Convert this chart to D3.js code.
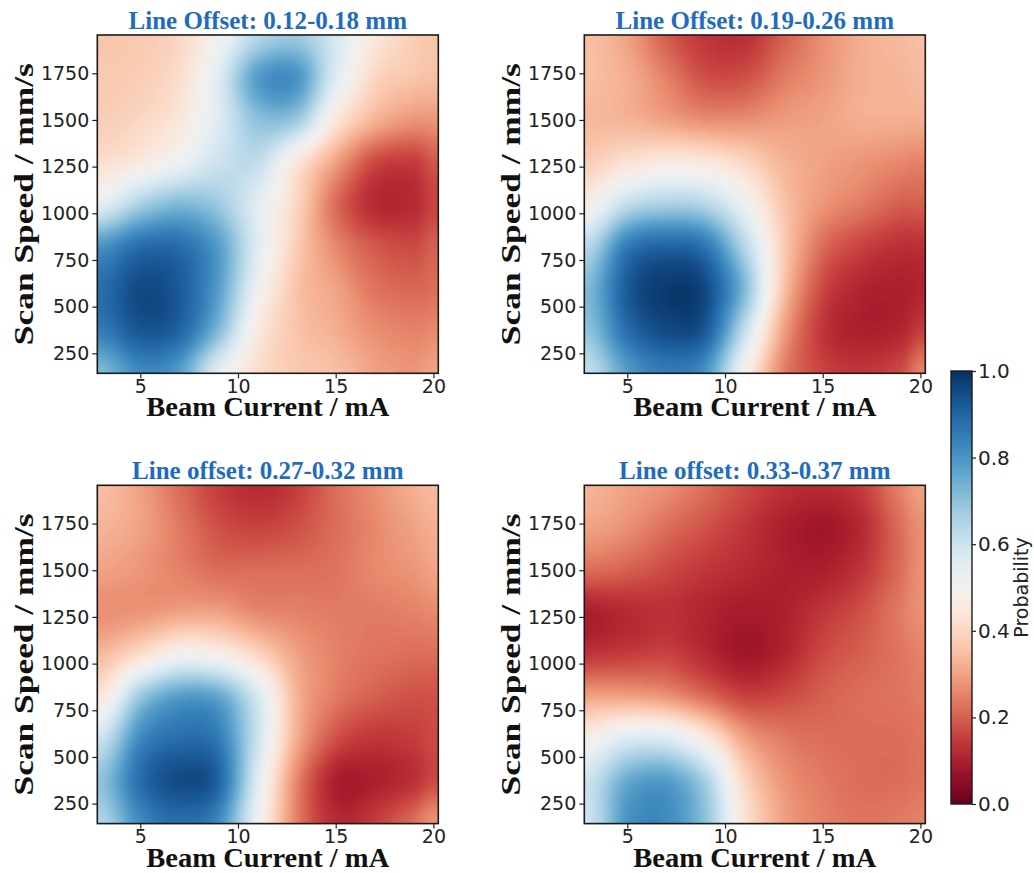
<!DOCTYPE html>
<html>
<head>
<meta charset="utf-8">
<script src="https://cdn.jsdelivr.net/npm/d3@7"></script>
<style>
  html, body { margin: 0; padding: 0; background: #fff; }
  svg { display: block; }
</style>
</head>
<body>
<svg id="chart" width="1034" height="873"></svg>
<script>
// ---------------- DATA ----------------
// Beam current grid (mA), columns
const currents = [3, 5, 7, 9, 11, 13, 15, 17, 19, 20];
// Scan speed grid (mm/s), rows from top to bottom
const speeds = [1950, 1725, 1500, 1275, 1050, 825, 600, 375, 150];

const titles = [
  "Line Offset: 0.12-0.18 mm",
  "Line Offset: 0.19-0.26 mm",
  "Line offset: 0.27-0.32 mm",
  "Line offset: 0.33-0.37 mm"
];

const xTicks = [5, 10, 15, 20];
const yTicks = [250, 500, 750, 1000, 1250, 1500, 1750];
const cbTicks = [0.0, 0.2, 0.4, 0.6, 0.8, 1.0];

// Probability values (rows follow `speeds`, columns follow `currents`)
const prob1 = [
  [0.36, 0.37, 0.40, 0.50, 0.64, 0.68, 0.58, 0.45, 0.38, 0.36],
  [0.37, 0.38, 0.42, 0.56, 0.78, 0.80, 0.56, 0.40, 0.36, 0.35],
  [0.38, 0.40, 0.45, 0.56, 0.70, 0.68, 0.45, 0.33, 0.28, 0.28],
  [0.42, 0.46, 0.52, 0.60, 0.62, 0.45, 0.30, 0.17, 0.15, 0.19],
  [0.55, 0.66, 0.72, 0.68, 0.55, 0.40, 0.22, 0.12, 0.12, 0.16],
  [0.80, 0.88, 0.88, 0.78, 0.56, 0.38, 0.26, 0.19, 0.17, 0.20],
  [0.88, 0.95, 0.92, 0.78, 0.52, 0.36, 0.30, 0.23, 0.21, 0.22],
  [0.85, 0.93, 0.90, 0.72, 0.46, 0.36, 0.32, 0.27, 0.25, 0.26],
  [0.72, 0.82, 0.78, 0.55, 0.42, 0.37, 0.35, 0.30, 0.28, 0.30]
];
const prob2 = [
  [0.35, 0.30, 0.20, 0.14, 0.13, 0.20, 0.27, 0.32, 0.34, 0.35],
  [0.35, 0.32, 0.25, 0.18, 0.18, 0.24, 0.28, 0.32, 0.33, 0.34],
  [0.34, 0.33, 0.30, 0.27, 0.27, 0.29, 0.30, 0.32, 0.32, 0.32],
  [0.38, 0.43, 0.46, 0.45, 0.40, 0.33, 0.30, 0.28, 0.26, 0.25],
  [0.48, 0.62, 0.66, 0.64, 0.52, 0.36, 0.28, 0.24, 0.20, 0.20],
  [0.64, 0.85, 0.90, 0.86, 0.64, 0.38, 0.22, 0.16, 0.13, 0.13],
  [0.72, 0.92, 0.98, 0.95, 0.72, 0.36, 0.17, 0.11, 0.10, 0.11],
  [0.70, 0.88, 0.95, 0.92, 0.62, 0.30, 0.14, 0.10, 0.11, 0.15],
  [0.62, 0.78, 0.85, 0.80, 0.50, 0.25, 0.16, 0.14, 0.17, 0.25]
];
const prob3 = [
  [0.35, 0.30, 0.22, 0.15, 0.12, 0.15, 0.22, 0.27, 0.32, 0.34],
  [0.33, 0.30, 0.24, 0.18, 0.16, 0.18, 0.22, 0.26, 0.30, 0.32],
  [0.30, 0.28, 0.25, 0.22, 0.22, 0.22, 0.23, 0.26, 0.28, 0.30],
  [0.27, 0.28, 0.30, 0.30, 0.26, 0.25, 0.24, 0.24, 0.25, 0.26],
  [0.34, 0.42, 0.50, 0.48, 0.40, 0.30, 0.25, 0.23, 0.22, 0.22],
  [0.45, 0.68, 0.78, 0.76, 0.58, 0.33, 0.24, 0.20, 0.18, 0.18],
  [0.60, 0.82, 0.88, 0.85, 0.60, 0.32, 0.18, 0.14, 0.15, 0.17],
  [0.70, 0.88, 0.95, 0.90, 0.56, 0.26, 0.10, 0.10, 0.13, 0.17],
  [0.65, 0.82, 0.88, 0.82, 0.52, 0.25, 0.12, 0.15, 0.22, 0.28]
];
const prob4 = [
  [0.33, 0.30, 0.27, 0.22, 0.17, 0.13, 0.12, 0.15, 0.25, 0.30],
  [0.30, 0.27, 0.22, 0.18, 0.14, 0.10, 0.08, 0.12, 0.22, 0.27],
  [0.22, 0.20, 0.17, 0.14, 0.12, 0.10, 0.10, 0.14, 0.22, 0.27],
  [0.10, 0.12, 0.13, 0.11, 0.09, 0.10, 0.14, 0.18, 0.24, 0.27],
  [0.14, 0.15, 0.16, 0.12, 0.08, 0.11, 0.17, 0.20, 0.23, 0.25],
  [0.30, 0.30, 0.28, 0.22, 0.16, 0.17, 0.20, 0.22, 0.23, 0.24],
  [0.48, 0.56, 0.56, 0.46, 0.30, 0.24, 0.22, 0.22, 0.22, 0.23],
  [0.60, 0.75, 0.78, 0.66, 0.40, 0.28, 0.24, 0.22, 0.22, 0.23],
  [0.60, 0.80, 0.82, 0.70, 0.44, 0.30, 0.25, 0.23, 0.24, 0.25]
];

// ---------------- LAYOUT ----------------
const panels = [
  { left: 97.3,  top: 35,    grid: prob1, title: titles[0] },
  { left: 584.3, top: 35,    grid: prob2, title: titles[1] },
  { left: 97.3,  top: 485.3, grid: prob3, title: titles[2] },
  { left: 584.3, top: 485.3, grid: prob4, title: titles[3] }
];
const PW = 341, PH = 338.3;
const xDomain = [2.8, 20.25];
const yDomain = [143, 1955];

const svg = d3.select("#chart");
const color = d3.scaleSequential(d3.interpolateRdBu).domain([0, 1]);

// colour lookup table
const LUT = d3.range(256).map(i => d3.rgb(color(i / 255)));

function cr(p0, p1, p2, p3, t) {
  return 0.5 * ((2 * p1) + (-p0 + p2) * t + (2 * p0 - 5 * p1 + 4 * p2 - p3) * t * t + (-p0 + 3 * p1 - 3 * p2 + p3) * t * t * t);
}
function segX(x) {
  const n = currents.length;
  x = Math.max(currents[0], Math.min(currents[n - 1], x));
  let i = 0;
  while (i < n - 2 && x > currents[i + 1]) i++;
  return [i, (x - currents[i]) / (currents[i + 1] - currents[i])];
}
function segY(y) {
  const n = speeds.length;
  y = Math.min(speeds[0], Math.max(speeds[n - 1], y));
  let j = 0;
  while (j < n - 2 && y < speeds[j + 1]) j++;
  return [j, (speeds[j] - y) / (speeds[j] - speeds[j + 1])];
}
function valueAt(grid, x, y) {
  const [i, tx] = segX(x);
  const [j, ty] = segY(y);
  const nx = currents.length, ny = speeds.length;
  const ci = k => Math.max(0, Math.min(nx - 1, k));
  const rj = k => Math.max(0, Math.min(ny - 1, k));
  const rowVals = [];
  for (let r = j - 1; r <= j + 2; r++) {
    const row = grid[rj(r)];
    rowVals.push(cr(row[ci(i - 1)], row[ci(i)], row[ci(i + 1)], row[ci(i + 2)], tx));
  }
  const v = cr(rowVals[0], rowVals[1], rowVals[2], rowVals[3], ty);
  return Math.max(0, Math.min(1, v));
}

const serif = "'Liberation Serif', 'Times New Roman', Times, serif";
const sans = "'DejaVu Sans', sans-serif";

panels.forEach(p => {
  const x = d3.scaleLinear().domain(xDomain).range([0, PW]);
  const y = d3.scaleLinear().domain(yDomain).range([PH, 0]);
  const g = svg.append("g").attr("transform", `translate(${p.left},${p.top})`);

  // heatmap raster
  const cw = Math.round(PW), ch = Math.round(PH);
  const canvas = document.createElement("canvas");
  canvas.width = cw; canvas.height = ch;
  const ctx = canvas.getContext("2d");
  const img = ctx.createImageData(cw, ch);
  for (let py = 0; py < ch; py++) {
    const yv = y.invert((py + 0.5) * PH / ch);
    for (let px = 0; px < cw; px++) {
      const xv = x.invert((px + 0.5) * PW / cw);
      const v = valueAt(p.grid, xv, yv);
      const c = LUT[Math.round(v * 255)];
      const k = (py * cw + px) * 4;
      img.data[k] = c.r; img.data[k + 1] = c.g; img.data[k + 2] = c.b; img.data[k + 3] = 255;
    }
  }
  ctx.putImageData(img, 0, 0);
  g.append("image")
    .attr("x", 0).attr("y", 0)
    .attr("width", PW).attr("height", PH)
    .attr("preserveAspectRatio", "none")
    .attr("href", canvas.toDataURL());

  // axes
  const xAxis = d3.axisBottom(x).tickValues(xTicks).tickSize(5).tickPadding(1).tickFormat(d3.format("d"));
  const yAxis = d3.axisLeft(y).tickValues(yTicks).tickSize(5).tickPadding(3).tickFormat(d3.format("d"));
  const gx = g.append("g").attr("transform", `translate(0,${PH})`).call(xAxis);
  const gy = g.append("g").call(yAxis);
  [gx, gy].forEach(a => {
    a.select(".domain").remove();
    a.selectAll(".tick line").attr("stroke", "#222").attr("stroke-width", 1.2);
    a.selectAll(".tick text")
      .attr("fill", "#222")
      .style("font-family", sans)
      .style("font-size", "19px");
  });

  // frame
  g.append("rect").attr("x", 0).attr("y", 0).attr("width", PW).attr("height", PH)
    .attr("fill", "none").attr("stroke", "#1a1a1a").attr("stroke-width", 1.6);

  // title
  g.append("text")
    .attr("x", PW / 2).attr("y", -6)
    .attr("text-anchor", "middle")
    .attr("fill", "#1f6cbf")
    .style("font-family", serif)
    .style("font-weight", "bold")
    .style("font-size", "25px")
    .text(p.title);

  // x label
  g.append("text")
    .attr("x", PW / 2).attr("y", PH + 43)
    .attr("text-anchor", "middle")
    .attr("fill", "#111")
    .style("font-family", serif)
    .style("font-weight", "bold")
    .style("font-size", "27px")
    .attr("textLength", 243)
    .attr("lengthAdjust", "spacingAndGlyphs")
    .text("Beam Current / mA");

  // y label
  g.append("text")
    .attr("transform", `translate(-64,${PH / 2}) rotate(-90)`)
    .attr("text-anchor", "middle")
    .attr("fill", "#111")
    .style("font-family", serif)
    .style("font-weight", "bold")
    .style("font-size", "28px")
    .attr("textLength", 282)
    .attr("lengthAdjust", "spacingAndGlyphs")
    .text("Scan Speed / mm/s");
});

// ---------------- COLORBAR ----------------
const cb = { left: 951, top: 371, w: 21, h: 433 };
const cbScale = d3.scaleLinear().domain([0, 1]).range([cb.h, 0]);
const cbg = svg.append("g").attr("transform", `translate(${cb.left},${cb.top})`);
{
  const canvas = document.createElement("canvas");
  canvas.width = 1; canvas.height = cb.h;
  const ctx = canvas.getContext("2d");
  const img = ctx.createImageData(1, cb.h);
  for (let py = 0; py < cb.h; py++) {
    const v = cbScale.invert(py + 0.5);
    const c = LUT[Math.round(Math.max(0, Math.min(1, v)) * 255)];
    img.data[py * 4] = c.r; img.data[py * 4 + 1] = c.g; img.data[py * 4 + 2] = c.b; img.data[py * 4 + 3] = 255;
  }
  ctx.putImageData(img, 0, 0);
  cbg.append("image").attr("x", 0).attr("y", 0).attr("width", cb.w).attr("height", cb.h)
    .attr("preserveAspectRatio", "none").attr("href", canvas.toDataURL());
}
const cbAxis = d3.axisRight(cbScale).tickValues(cbTicks).tickSize(4).tickPadding(2).tickFormat(d3.format(".1f"));
const cba = cbg.append("g").attr("transform", `translate(${cb.w},0)`).call(cbAxis);
cba.select(".domain").remove();
cba.selectAll(".tick line").attr("stroke", "#222").attr("stroke-width", 1.2);
cba.selectAll(".tick text").attr("fill", "#222")
  .style("font-family", sans).style("font-size", "20px");
cbg.append("rect").attr("width", cb.w).attr("height", cb.h)
  .attr("fill", "none").attr("stroke", "#1a1a1a").attr("stroke-width", 1.4);
cbg.append("text")
  .attr("transform", `translate(${cb.w + 56},${cb.h / 2}) rotate(-90)`)
  .attr("text-anchor", "middle")
  .attr("fill", "#222")
  .style("font-family", sans)
  .style("font-size", "19px")
  .text("Probability");
</script>
</body>
</html>
